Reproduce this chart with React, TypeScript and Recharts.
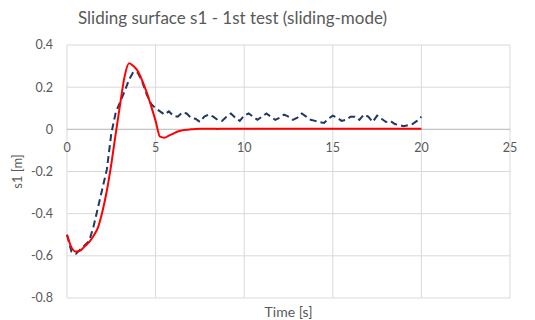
import React from "react";
import { LineChart, Line, XAxis, YAxis, CartesianGrid, ReferenceLine, Label } from "recharts";

const times = [
  0, 0.25, 0.5, 0.75, 1, 1.25, 1.5, 1.75, 2, 2.25, 2.5, 2.75, 3, 3.25, 3.5, 3.75, 4, 4.25, 4.5, 4.75,
  5, 5.25, 5.5, 5.75, 6, 6.25, 6.5, 6.75, 7, 7.25, 7.5, 7.75, 8, 8.25, 8.5, 8.75, 9, 9.25, 9.5, 9.75,
  10, 10.25, 10.5, 10.75, 11, 11.25, 11.5, 11.75, 12, 12.25, 12.5, 12.75, 13, 13.25, 13.5, 13.75,
  14, 14.25, 14.5, 14.75, 15, 15.25, 15.5, 15.75, 16, 16.25, 16.5, 16.75, 17, 17.25, 17.5, 17.75,
  18, 18.25, 18.5, 18.75, 19, 19.25, 19.5, 19.75, 20,
];

const s1Red = [
  -0.5, -0.56, -0.58, -0.575, -0.555, -0.535, -0.505, -0.465, -0.39, -0.29, -0.165, -0.02, 0.12, 0.25, 0.313, 0.3, 0.275, 0.23, 0.175, 0.11,
  0.04, -0.035, -0.04, -0.03, -0.02, -0.01, -0.005, -0.002, 0.0, 0.002, 0.003, 0.003, 0.003, 0.003, 0.002, 0.003, 0.003, 0.003, 0.003, 0.003,
  0.003, 0.003, 0.003, 0.003, 0.003, 0.003, 0.003, 0.003, 0.003, 0.003, 0.003, 0.003, 0.003, 0.003, 0.003, 0.003,
  0.003, 0.003, 0.003, 0.003, 0.003, 0.003, 0.003, 0.003, 0.003, 0.003, 0.003, 0.003, 0.003, 0.003, 0.003, 0.003,
  0.003, 0.003, 0.003, 0.003, 0.003, 0.003, 0.003, 0.003, 0.003,
];

const s1Dashed = [
  -0.5, -0.58, -0.59, -0.57, -0.55, -0.53, -0.46, -0.37, -0.28, -0.19, -0.02, 0.08, 0.13, 0.18, 0.235, 0.273, 0.268, 0.225, 0.165, 0.12,
  0.1, 0.085, 0.07, 0.085, 0.065, 0.06, 0.08, 0.075, 0.055, 0.05, 0.035, 0.06, 0.07, 0.06, 0.045, 0.04, 0.06, 0.075, 0.055, 0.04,
  0.065, 0.075, 0.06, 0.045, 0.06, 0.075, 0.06, 0.045, 0.055, 0.07, 0.06, 0.045, 0.055, 0.075, 0.06, 0.045,
  0.04, 0.035, 0.03, 0.05, 0.065, 0.055, 0.04, 0.045, 0.06, 0.06, 0.045, 0.07, 0.06, 0.035, 0.065, 0.05,
  0.035, 0.04, 0.025, 0.02, 0.015, 0.02, 0.025, 0.04, 0.06,
];

const xTicks = [0, 5, 10, 15, 20, 25];
const yTicks = [-0.8, -0.6, -0.4, -0.2, 0, 0.2, 0.4];

const data = times.map((t, i) => ({ t, red: s1Red[i], dashed: s1Dashed[i] }));

const FONT = "Lato, 'Open Sans', sans-serif";
const GREY = "#595959";

const XTick = (props: any) => {
  const { x, payload } = props;
  return (
    <text x={x} y={152} textAnchor="middle" fill={GREY} fontSize={12.5} fontFamily={FONT}>
      {payload.value}
    </text>
  );
};

export default function App() {
  return (
    <div style={{ position: "absolute", left: 0, top: 0, width: 535, height: 320, background: "#fff" }}>
      <LineChart width={535} height={320} data={data} margin={{ top: 45, right: 25, bottom: 0, left: 0 }}>
        <text x={78} y={24} fill={GREY} fontSize={17} fontFamily={FONT}>
          Sliding surface s1 - 1st test (sliding-mode)
        </text>
        <CartesianGrid stroke="#d9d9d9" strokeWidth={1} />
        <XAxis
          dataKey="t"
          type="number"
          domain={[0, 25]}
          ticks={xTicks}
          axisLine={false}
          tickLine={false}
          tick={<XTick />}
          height={22}
        >
          <Label value="Time [s]" position="insideBottom" offset={3} fill={GREY} fontSize={14} fontFamily={FONT} />
        </XAxis>
        <YAxis
          type="number"
          domain={[-0.8, 0.4]}
          ticks={yTicks}
          axisLine={false}
          tickLine={false}
          width={67}
          tick={{ fill: GREY, fontSize: 12.5, fontFamily: FONT }}
          tickMargin={8}
        >
          <Label value="s1 [m]" angle={-90} position="insideLeft" offset={17} fill={GREY} fontSize={13} fontFamily={FONT} style={{ textAnchor: "middle" }} />
        </YAxis>
        <ReferenceLine y={0} stroke="#bfbfbf" strokeWidth={1} />
        <Line dataKey="dashed" stroke="#203864" strokeWidth={2} strokeDasharray="7 4" dot={false} type="linear" isAnimationActive={false} />
        <Line dataKey="red" stroke="#ff0000" strokeWidth={2} dot={false} type="monotone" isAnimationActive={false} />
      </LineChart>
    </div>
  );
}
